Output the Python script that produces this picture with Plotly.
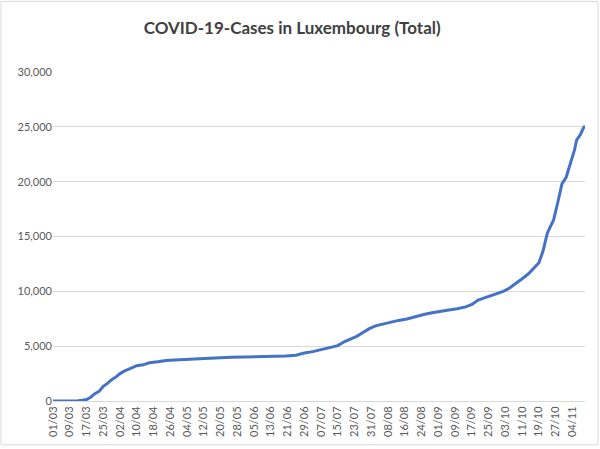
import plotly.graph_objects as go

# readings (dd/mm, 2020)
dates = [
    "01/03", "05/03", "10/03", "13/03", "15/03", "17/03", "19/03", "21/03", "23/03", "25/03",
    "27/03", "29/03", "31/03", "02/04", "04/04", "07/04", "10/04", "13/04", "16/04", "20/04",
    "24/04", "28/04", "01/05", "06/05", "10/05", "15/05", "20/05", "25/05", "31/05", "05/06",
    "10/06", "15/06", "20/06", "25/06", "29/06", "03/07", "07/07", "11/07", "15/07", "18/07",
    "21/07", "24/07", "27/07", "30/07", "02/08", "05/08", "09/08", "13/08", "17/08", "21/08",
    "25/08", "29/08", "02/09", "06/09", "10/09", "14/09", "17/09", "20/09", "23/09", "26/09",
    "29/09", "02/10", "05/10", "08/10", "11/10", "14/10", "17/10", "19/10", "21/10", "22/10",
    "23/10", "25/10", "26/10", "28/10", "30/10", "01/11", "03/11", "05/11", "06/11", "08/11",
    "09/11", "10/11",
]
cases = [
    0, 2, 7, 34, 77, 140, 345, 670, 875, 1333,
    1605, 1950, 2180, 2500, 2720, 2970, 3220, 3300, 3480, 3570,
    3700, 3730, 3780, 3830, 3860, 3900, 3960, 3990, 4020, 4040,
    4040, 4080, 4100, 4180, 4380, 4500, 4700, 4880, 5050, 5400,
    5650, 5900, 6250, 6600, 6850, 7000, 7200, 7350, 7480, 7700,
    7880, 8050, 8150, 8300, 8420, 8580, 8800, 9200, 9400, 9600,
    9800, 10000, 10300, 10700, 11150, 11600, 12250, 12600, 13700, 14500,
    15300, 16100, 16500, 18100, 19800, 20400, 21600, 22900, 23800, 24350,
    24800, 25100,
]

x_dates = ["2020-%s-%s" % (d[3:], d[:2]) for d in dates]

grey = "#d9d9d9"
txt = "#595959"

fig = go.Figure()
fig.add_trace(go.Scatter(
    x=x_dates, y=cases, mode="lines",
    line=dict(color="#4472C4", width=3),
    showlegend=False, hoverinfo="x+y",
))

fig.update_layout(
    width=600, height=449,
    margin=dict(l=53, r=15, t=72, b=46),
    paper_bgcolor="white", plot_bgcolor="white",
    font=dict(family="Lato, Open Sans, sans-serif", color=txt, size=11),
    title=dict(
        text="<b>COVID-19-Cases in Luxembourg (Total)</b>",
        x=0.487, xanchor="center", y=0.937, yanchor="middle",
        font=dict(size=17, color="#404040"),
    ),
    xaxis=dict(
        type="date",
        range=["2020-03-01", "2020-11-10"],
        tick0="2020-03-01", dtick=8 * 86400000,
        tickformat="%d/%m", tickangle=-90,
        showgrid=False, zeroline=False,
        showline=True, linecolor=grey, linewidth=1,
        ticks="", tickfont=dict(size=11, color=txt),
    ),
    yaxis=dict(
        range=[0, 30000], dtick=5000, tickformat=",",
        showgrid=True, gridcolor=grey, gridwidth=1,
        zeroline=False, showline=False, ticks="",
        tickfont=dict(size=11, color=txt),
    ),
    shapes=[dict(
        type="rect", xref="paper", yref="paper",
        x0=-0.0977, x1=1.0244, y0=-0.133, y1=1.2145,
        line=dict(color=grey, width=1), fillcolor="rgba(0,0,0,0)",
    )],
)

# drop the browser's default 8px body margin so the chart sits at 0,0
fig.write_html("out.html", config={"displayModeBar": False},
               post_script="document.body.style.margin='0';")
